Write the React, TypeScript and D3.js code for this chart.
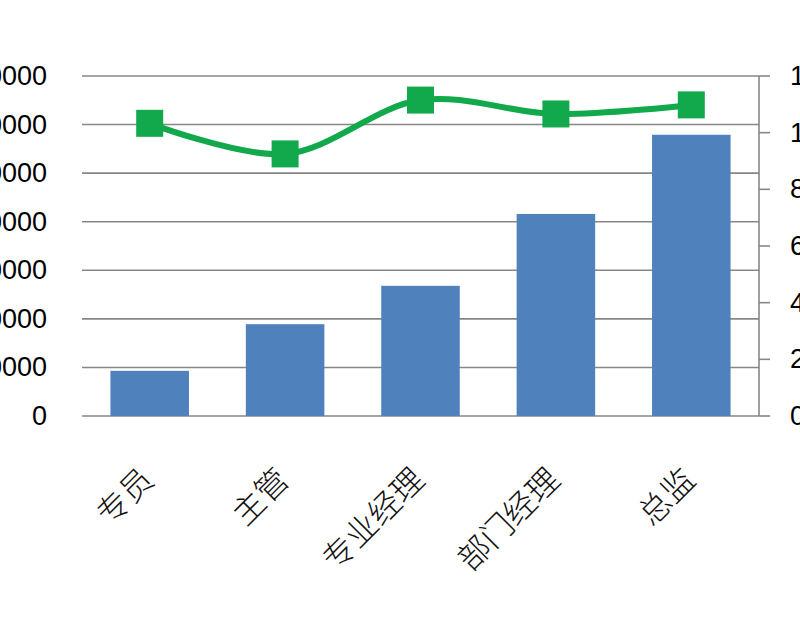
import React from "react";
import * as d3 from "d3";

// categories and series
const categories = ["专员", "主管", "专业经理", "部门经理", "总监"];
const salary = [9300, 18900, 26800, 41600, 57900];
const ratio = [10.33, 9.25, 11.15, 10.66, 10.98];
const leftTicks = [0, 10000, 20000, 30000, 40000, 50000, 60000, 70000];
const rightTicks = [0, 2, 4, 6, 8, 10, 12];

const W = 800;
const H = 629;
const margins = { top: 76, right: 41, bottom: 213, left: 82 };

const App: React.FC = () => {
  const innerRight = W - margins.right;
  const innerBottom = H - margins.bottom;

  const x = d3
    .scaleBand()
    .domain(categories)
    .range([margins.left, innerRight])
    .paddingInner(0.42)
    .paddingOuter(0.21);
  const yLeft = d3.scaleLinear().domain([0, 70000]).range([innerBottom, margins.top]);
  const yRight = d3.scaleLinear().domain([0, 12]).range([innerBottom, margins.top]);

  const cx = (c: string) => x(c)! + x.bandwidth() / 2;

  const line = d3
    .line<number>()
    .x((_, i) => cx(categories[i]))
    .y((d) => yRight(d))
    .curve(d3.curveCatmullRom.alpha(0.5));

  const marker = 27;

  return (
    <div style={{ position: "fixed", left: 0, top: 0, width: W, height: H, background: "#fff" }}>
      <svg width={W} height={H} style={{ display: "block" }}>
        <rect width={W} height={H} fill="#ffffff" />
        {/* gridlines */}
        {leftTicks.map((t) => (
          <line
            key={"g" + t}
            x1={margins.left}
            x2={innerRight}
            y1={yLeft(t)}
            y2={yLeft(t)}
            stroke="#878787"
            strokeWidth={1.6}
          />
        ))}
        {/* left labels */}
        {leftTicks.map((t) => (
          <text
            key={"l" + t}
            x={47}
            y={yLeft(t)}
            textAnchor="end"
            dominantBaseline="central"
            fontFamily="'Liberation Sans', Arial, sans-serif"
            fontSize={27}
            fill="#000"
          >
            {t}
          </text>
        ))}
        {/* right axis */}
        <line
          x1={innerRight}
          x2={innerRight}
          y1={margins.top}
          y2={innerBottom}
          stroke="#878787"
          strokeWidth={1.6}
        />
        {rightTicks.map((t) => (
          <g key={"r" + t}>
            <line
              x1={innerRight}
              x2={innerRight + 11}
              y1={yRight(t)}
              y2={yRight(t)}
              stroke="#878787"
              strokeWidth={1.6}
            />
            <text
              x={790}
              y={yRight(t)}
              textAnchor="start"
              dominantBaseline="central"
              fontFamily="'Liberation Sans', Arial, sans-serif"
              fontSize={27}
              fill="#000"
            >
              {t}
            </text>
          </g>
        ))}
        {/* bars */}
        {salary.map((v, i) => (
          <rect
            key={"b" + i}
            x={x(categories[i])}
            y={yLeft(v)}
            width={x.bandwidth()}
            height={innerBottom - yLeft(v)}
            fill="#4f81bd"
          />
        ))}
        {/* line */}
        <path d={line(ratio) || ""} fill="none" stroke="#12a84c" strokeWidth={6} />
        {ratio.map((v, i) => (
          <rect
            key={"m" + i}
            x={cx(categories[i]) - marker / 2}
            y={yRight(v) - marker / 2}
            width={marker}
            height={marker}
            fill="#12a84c"
          />
        ))}
        {/* category labels */}
        {categories.map((c) => (
          <text
            key={"c" + c}
            transform={`translate(${cx(c) - 4},${472}) rotate(-45)`}
            textAnchor="end"
            dominantBaseline="central"
            fontFamily="'Noto Sans CJK SC', sans-serif"
            fontSize={32}
            fontWeight={300}
            fill="#111"
          >
            {c}
          </text>
        ))}
      </svg>
    </div>
  );
};

export default App;
